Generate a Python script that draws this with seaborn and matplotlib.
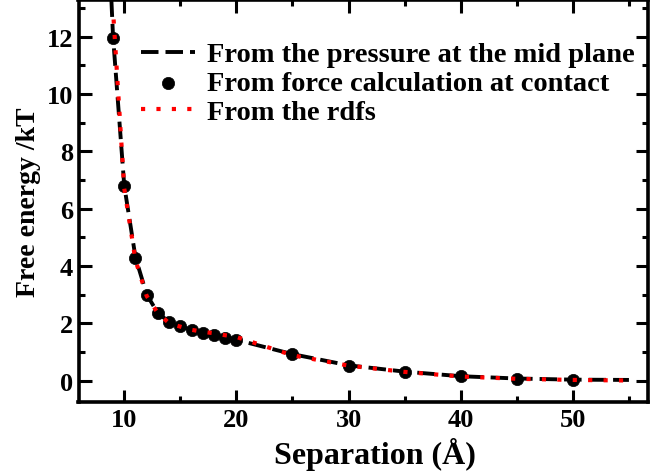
import numpy as np
import pandas as pd
import matplotlib
matplotlib.use("Agg")
import matplotlib.pyplot as plt
import seaborn as sns
from matplotlib.ticker import MultipleLocator

# free energy vs separation, three estimates
sep_pressure = [8.85, 9, 10, 11, 12, 13, 14, 15, 16, 17, 18, 19, 20, 25, 30, 35, 40, 45, 50, 55]
fe_pressure = [13.3, 12.0, 6.8, 4.3, 3.0, 2.35, 2.05, 1.9, 1.76, 1.67, 1.6, 1.5, 1.42, 0.92, 0.53, 0.31, 0.15, 0.07, 0.03, 0.02]

sep_force = [9, 10, 11, 12, 13, 14, 15, 16, 17, 18, 19, 20, 25, 30, 35, 40, 45, 50]
fe_force = [11.95, 6.8, 4.28, 2.99, 2.36, 2.05, 1.9, 1.75, 1.66, 1.59, 1.48, 1.4, 0.91, 0.52, 0.31, 0.15, 0.06, 0.02]

sep_rdf = [9.05, 10, 11, 12, 13, 14, 15, 16, 17, 18, 19, 20, 22.5, 25, 30, 35, 40, 45, 50, 55]
fe_rdf = [12.6, 6.7, 4.2, 2.95, 2.35, 2.0, 1.88, 1.77, 1.7, 1.65, 1.58, 1.52, 1.2, 0.88, 0.52, 0.3, 0.14, 0.06, 0.02, 0.0]

sns.set_style("ticks")
plt.rcParams["font.family"] = ["Liberation Serif", "DejaVu Serif"]
plt.rcParams["font.weight"] = "bold"
for key in ["text.color", "axes.labelcolor", "xtick.color", "ytick.color", "axes.edgecolor"]:
    plt.rcParams[key] = "black"

fig = plt.figure(figsize=(6.5, 4.77), dpi=100)
ax = fig.add_axes([78.5 / 650, 1 - 403 / 477, (648 - 78.5) / 650, (403 - 1) / 477])

sns.lineplot(x=sep_pressure, y=fe_pressure, ax=ax, color="black", lw=2.8,
             label="From the pressure at the mid plane", sort=False)
ax.lines[-1].set_dashes((4.5, 1.8))
sns.scatterplot(x=sep_force, y=fe_force, ax=ax, color="black", s=78, edgecolor="black",
                linewidth=0.5, label="From force calculation at contact", zorder=3)
sns.lineplot(x=sep_rdf, y=fe_rdf, ax=ax, color="red", lw=3,
             label="From the rdfs", sort=False, zorder=4)
ax.lines[-1].set_linestyle((0, (1, 2.7)))

ax.set_xlim(5.92, 56.7)
ax.set_ylim(-0.75, 13.28)
ax.xaxis.set_major_locator(MultipleLocator(10))
ax.xaxis.set_minor_locator(MultipleLocator(5))
ax.yaxis.set_major_locator(MultipleLocator(2))
ax.yaxis.set_minor_locator(MultipleLocator(1))
ax.tick_params(which="both", direction="in", top=True, right=True, width=2.2,
               labelsize=19, colors="black")
ax.tick_params(which="major", length=9, pad=4)
ax.tick_params(which="minor", length=4.5)
for sp in ax.spines.values():
    sp.set_linewidth(2.6)
    sp.set_color("black")
    sp.set_visible(True)
for lab in ax.get_xticklabels() + ax.get_yticklabels():
    lab.set_fontweight("bold")

ax.set_xlabel("Separation (Å)", fontsize=23, fontweight="bold", labelpad=5, x=0.52)
ax.set_ylabel("Free energy /kT", fontsize=20, fontweight="bold", labelpad=4)

leg = ax.legend(loc="upper right", bbox_to_anchor=(0.9965, 0.925), frameon=False,
                prop={"size": 20.5, "weight": "bold"}, handlelength=1.9,
                handletextpad=0.4, labelspacing=0.1, borderaxespad=0.0)

fig.savefig("out.png", dpi=100)
